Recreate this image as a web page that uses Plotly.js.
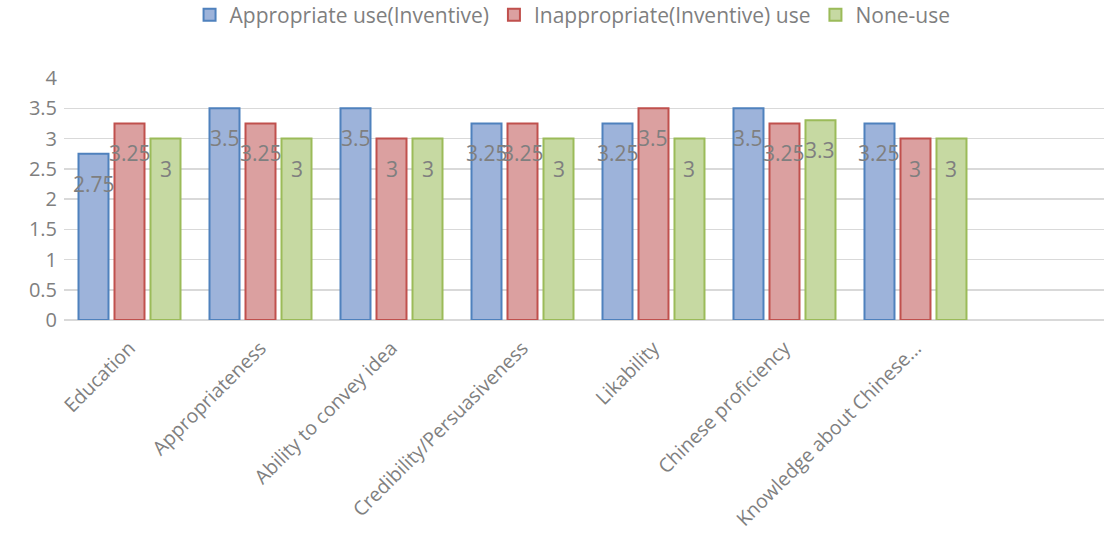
<!DOCTYPE html>
<html>
<head>
<meta charset="utf-8">
<script src="https://cdn.plot.ly/plotly-3.0.1.min.js"></script>
<style>html,body{margin:0;padding:0;background:#fff;}#chart{width:1104px;height:533px;}</style>
</head>
<body>
<div id="chart"></div>
<script>
var categories = ["Education", "Appropriateness", "Ability to convey idea", "Credibility/Persuasiveness", "Likability", "Chinese proficiency", "Knowledge about Chinese..."];
var seriesNames = ["Appropriate use(Inventive)", "Inappropriate(Inventive) use", "None-use"];
var appropriateUse = [2.75, 3.5, 3.5, 3.25, 3.25, 3.5, 3.25];
var inappropriateUse = [3.25, 3.25, 3, 3.25, 3.5, 3.25, 3];
var noneUse = [3, 3, 3, 3, 3, 3.3, 3];

var fills = ["#9db3da", "#dba0a0", "#c6d9a2"];
var borders = ["#4f81bd", "#c0504d", "#9bbb59"];
var allSeries = [appropriateUse, inappropriateUse, noneUse];
var xIdx = categories.map(function(_, i){ return i; });

var bargap = 23/131;
var bargroupgap = 6/36;
var slot = (1 - bargap) / 3;

var traces = allSeries.map(function(vals, j){
  return {
    type: "bar",
    name: seriesNames[j],
    x: xIdx,
    y: vals,
    marker: {color: fills[j], line: {color: borders[j], width: 2}},
    hoverinfo: "skip"
  };
});

var annotations = [];
allSeries.forEach(function(vals, j){
  vals.forEach(function(v, i){
    annotations.push({
      x: i + (j - 1) * slot, y: v, xref: "x", yref: "y",
      text: String(v), showarrow: false,
      yanchor: "middle", xanchor: "center", yshift: -30,
      font: {family: "Open Sans, sans-serif", size: 21, color: "#7f7f7f"}
    });
  });
});

var layout = {
  width: 1104, height: 533,
  margin: {l: 64, r: 0, t: 78, b: 213, autoexpand: false},
  paper_bgcolor: "#ffffff", plot_bgcolor: "#ffffff",
  barmode: "group", bargap: bargap, bargroupgap: bargroupgap,
  font: {family: "Open Sans, sans-serif", color: "#7f7f7f"},
  xaxis: {
    range: [-0.5, 7.439], tickvals: xIdx, ticktext: categories,
    tickangle: -45, tickfont: {size: 19.5, color: "#808080"},
    showgrid: false, zeroline: false, showline: false, ticks: "",
    ticklabelstandoff: 12, automargin: false
  },
  yaxis: {
    range: [0, 4], dtick: 0.5, tickfont: {size: 20, color: "#7f7f7f"},
    showgrid: true, gridcolor: "#d9d9d9", gridwidth: 1.5,
    zeroline: true, zerolinecolor: "#d9d9d9", zerolinewidth: 1.5,
    ticks: "", ticklabelstandoff: 6, showline: false, automargin: false
  },
  legend: {
    orientation: "h", x: 0.489, xanchor: "center", y: 1.26, yanchor: "middle",
    font: {size: 21, color: "#7f7f7f"}, itemwidth: 30, traceorder: "normal"
  },
  annotations: annotations,
  showlegend: true
};

Plotly.newPlot("chart", traces, layout, {displayModeBar: false, staticPlot: true});
</script>
</body>
</html>
